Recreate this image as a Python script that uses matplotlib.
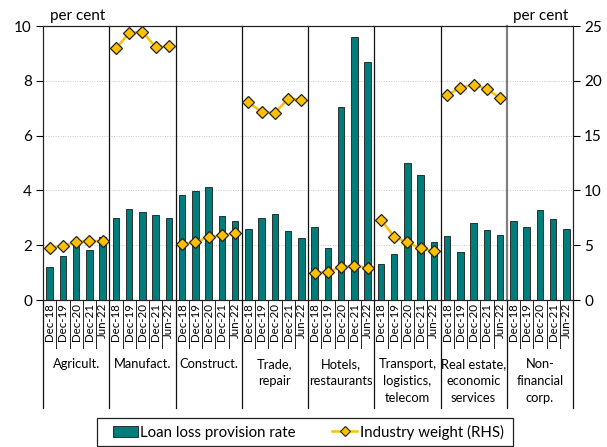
import matplotlib
matplotlib.use("Agg")
import matplotlib.pyplot as plt
from matplotlib.lines import Line2D
from matplotlib.patches import Patch, Rectangle
import numpy as np

plt.rcParams['font.family'] = ['Lato', 'DejaVu Sans']

groups = ["Agricult.", "Manufact.", "Construct.", "Trade,\nrepair", "Hotels,\nrestaurants",
          "Transport,\nlogistics,\ntelecom", "Real estate,\neconomic\nservices", "Non-\nfinancial\ncorp."]
periods = ["Dec-18", "Dec-19", "Dec-20", "Dec-21", "Jun-22"]

provision = [
    1.22, 1.61, 2.10, 1.81, 2.30,
    2.99, 3.31, 3.21, 3.11, 3.00,
    3.84, 3.97, 4.11, 3.05, 2.88,
    2.60, 3.00, 3.14, 2.52, 2.27,
    2.67, 1.90, 7.04, 9.59, 8.70,
    1.30, 1.68, 4.99, 4.56, 2.11,
    2.32, 1.74, 2.80, 2.57, 2.36,
    2.89, 2.65, 3.28, 2.94, 2.59,
]

weight = [
    [4.74, 4.93, 5.29, 5.41, 5.35],
    [22.95, 24.36, 24.48, 23.08, 23.14],
    [5.11, 5.29, 5.72, 5.90, 6.08],
    [18.05, 17.16, 17.10, 18.35, 18.29],
    [2.50, 2.56, 3.02, 3.09, 2.96],
    [7.31, 5.77, 5.25, 4.72, 4.48],
    [18.72, 19.36, 19.66, 19.27, 18.41],
    None,
]

W, H = 607, 447
fig = plt.figure(figsize=(W / 100, H / 100), dpi=100)
L, R, T, B = 43, 573, 26, 300
ax = fig.add_axes([L / W, 1 - B / H, (R - L) / W, (B - T) / H])
ax2 = ax.twinx()

teal = "#007C7A"
gold = "#FFC000"

n = len(provision)
x = np.arange(n)
ax.bar(x, provision, width=0.5, color=teal, edgecolor="#1a1a1a", linewidth=0.6, zorder=3)

for gi, w in enumerate(weight):
    if w is None:
        continue
    xs = np.arange(gi * 5, gi * 5 + 5)
    ax2.plot(xs, w, color=gold, linewidth=1.8, marker="D", markersize=6.5,
             markerfacecolor=gold, markeredgecolor="#222222", markeredgewidth=0.9, zorder=4)

ax.set_xlim(-0.5, n - 0.5)
ax.set_ylim(0, 10)
ax2.set_ylim(0, 25)
ax.set_yticks([0, 2, 4, 6, 8, 10])
ax2.set_yticks([0, 5, 10, 15, 20, 25])
ax.yaxis.grid(True, linestyle=(0, (1, 1.5)), color="#c8c8c8", linewidth=0.7)
ax.set_axisbelow(True)
ax.tick_params(axis="y", labelsize=11, length=5, width=0.8, direction="out", pad=3)
ax2.tick_params(axis="y", labelsize=11, length=5, width=0.8, direction="out", pad=3)

for a in (ax, ax2):
    for s in ("top", "bottom", "left", "right"):
        a.spines[s].set_color("#222222")

ax.set_xticks(x)
ax.set_xticklabels(periods * 8, rotation=90, fontsize=8.3, va="top")
ax.tick_params(axis="x", length=0, pad=2)

# separators
px = 1.0 / (B - T)
xt = ax.get_xaxis_transform()
for i in range(1, n):
    xb = i - 0.5
    if i % 5 == 0:
        if i == 35:
            ax.plot([xb, xb], [1, 0], transform=xt, color="#808080", linewidth=1.6,
                    clip_on=False, zorder=5)
            ax.plot([xb, xb], [0, -108 * px], transform=xt, color="#111111", linewidth=0.9,
                    clip_on=False, zorder=5)
        else:
            ax.plot([xb, xb], [1, -108 * px], transform=xt, color="#111111", linewidth=0.9,
                    clip_on=False, zorder=5)
    else:
        ax.plot([xb, xb], [0, -48 * px], transform=xt,
                color="#222222", linewidth=0.7, clip_on=False, zorder=5)
for xb in (-0.5, n - 0.5):
    ax.plot([xb, xb], [0, -108 * px], transform=xt,
            color="#111111", linewidth=0.9, clip_on=False, zorder=5)

for gi, g in enumerate(groups):
    ax.text(gi * 5 + 2, -58 * px, g, transform=xt,
            ha="center", va="top", fontsize=9.3, linespacing=1.5)

fig.text(50 / W, 1 - 16 / H, "per cent", fontsize=11, ha="left", va="center")
fig.text(568 / W, 1 - 16 / H, "per cent", fontsize=11, ha="right", va="center")

# legend box
fig.patches.append(Rectangle((97 / W, 1 - 446 / H), (513 - 97) / W, 28 / H,
                             transform=fig.transFigure, fill=False,
                             edgecolor="#222222", linewidth=0.9))
handles = [Patch(facecolor=teal, edgecolor="#1a1a1a", linewidth=0.6),
           Line2D([0], [0], color=gold, linewidth=1.8, marker="D", markersize=5,
                  markerfacecolor=gold, markeredgecolor="#222222", markeredgewidth=0.8)]
leg = fig.legend(handles, ["Loan loss provision rate", "Industry weight (RHS)"],
                 loc="center", bbox_to_anchor=(308 / W, 1 - 432 / H), ncol=2,
                 fontsize=10.8, frameon=False,
                 handlelength=1.7, handletextpad=0.15, columnspacing=2.4,
                 borderpad=0.2)

fig.savefig("out.png", dpi=100)
